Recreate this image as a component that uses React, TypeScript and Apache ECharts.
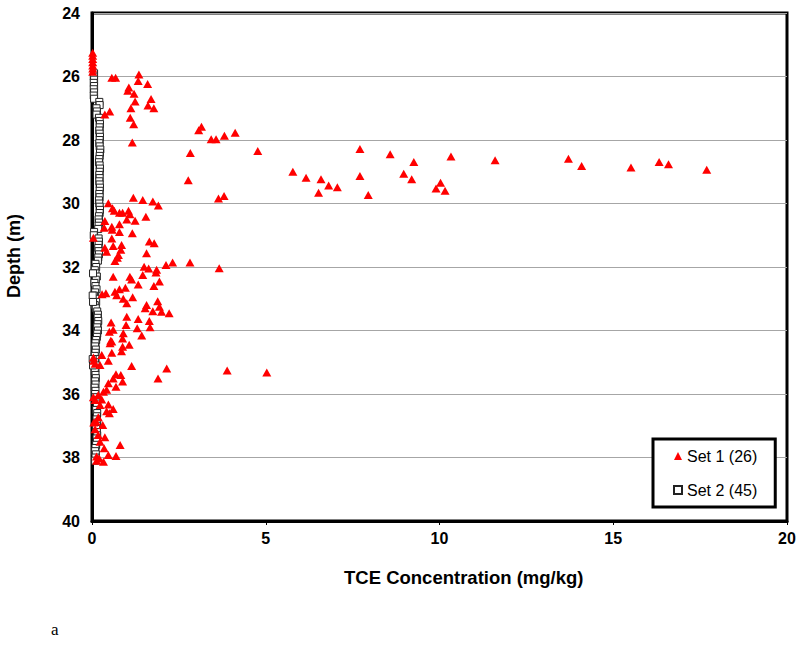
import React, { useEffect, useRef } from "react";
import * as echarts from "echarts";

// Set 1: [TCE concentration (mg/kg), depth (m)]
const set1: [number, number][] = [
  [0.02, 25.25], [0.02, 25.35], [0.02, 25.45], [0.02, 25.55], [0.02, 25.65], [0.02, 25.75], [0.02, 25.85],
  [0.57, 26.04], [0.68, 26.04], [1.35, 25.94], [1.33, 26.14], [1.6, 26.24], [1.06, 26.35], [1.03, 26.45],
  [1.21, 26.54], [1.7, 26.71], [1.24, 26.79], [1.61, 26.91], [1.78, 27.0], [1.12, 27.0], [0.51, 27.1],
  [0.37, 27.2], [1.1, 27.3], [1.2, 27.5], [1.16, 28.08],
  [3.15, 27.58], [3.07, 27.69], [3.43, 27.98], [3.57, 27.98], [3.81, 27.87], [4.12, 27.77], [2.83, 28.41],
  [4.77, 28.35], [2.77, 29.27],
  [7.71, 28.28], [8.58, 28.45], [9.26, 28.69], [10.33, 28.52], [11.6, 28.64], [5.78, 29.0], [6.16, 29.19],
  [6.59, 29.24], [6.81, 29.43], [7.06, 29.49], [6.52, 29.66], [7.71, 29.13], [7.95, 29.73], [8.97, 29.06],
  [9.2, 29.24], [9.9, 29.53], [10.03, 29.35], [10.16, 29.6],
  [13.71, 28.59], [14.09, 28.82], [15.51, 28.87], [16.32, 28.69], [16.59, 28.76], [17.69, 28.94],
  [1.19, 29.82], [1.46, 29.89], [1.75, 29.94], [1.91, 30.06], [3.64, 29.84], [3.8, 29.76], [0.47, 29.99],
  [0.59, 30.15], [0.64, 30.23], [0.79, 30.29], [0.88, 30.29], [1.05, 30.23], [1.09, 30.34], [1.0, 30.5],
  [1.24, 30.54], [1.55, 30.42], [0.37, 30.55], [0.35, 30.76], [0.57, 30.73], [0.58, 30.83], [0.79, 30.65],
  [0.79, 30.9], [1.16, 30.94], [0.04, 31.08], [0.57, 31.1], [1.65, 31.2], [1.79, 31.25], [0.61, 31.34],
  [0.85, 31.31], [0.37, 31.39], [0.42, 31.52], [0.83, 31.46], [1.57, 31.57], [0.76, 31.62], [0.73, 31.71],
  [0.66, 31.81], [2.13, 31.94], [2.32, 31.86], [2.82, 31.86], [3.66, 32.04], [1.5, 31.99], [1.63, 32.05],
  [1.86, 32.09], [1.84, 32.17], [1.46, 32.25], [0.61, 32.31], [1.09, 32.31], [1.14, 32.39], [1.94, 32.46],
  [1.33, 32.55], [1.78, 32.6], [0.96, 32.65], [0.79, 32.7], [0.66, 32.78], [0.4, 32.83], [0.29, 32.86],
  [0.71, 32.89], [1.17, 32.95], [0.9, 33.0], [1.0, 33.14], [1.57, 33.2], [1.89, 33.08], [1.94, 33.25],
  [1.53, 33.3], [1.75, 33.39], [2.0, 33.41], [2.22, 33.46], [1.0, 33.57], [1.33, 33.64], [0.55, 33.75],
  [0.98, 33.83], [1.65, 33.7], [1.67, 33.9], [1.3, 33.93], [0.5, 34.04], [0.61, 33.98], [0.9, 34.09],
  [1.43, 34.16], [0.54, 34.32], [0.88, 34.25], [1.07, 34.45], [0.88, 34.51], [0.52, 34.4], [0.57, 34.35],
  [0.57, 34.7], [0.85, 34.65], [0.28, 34.77], [0.47, 34.95], [0.09, 35.05], [0.23, 35.09], [1.14, 35.12],
  [2.15, 35.2], [3.89, 35.26], [5.03, 35.32], [0.69, 35.38], [0.83, 35.4], [0.61, 35.51], [0.88, 35.61],
  [1.9, 35.51], [0.47, 35.66], [0.69, 35.77], [0.42, 35.87], [0.33, 35.93], [0.18, 36.03], [0.09, 36.19],
  [0.28, 36.17], [0.23, 36.35], [0.47, 36.33], [0.61, 36.47], [0.42, 36.54], [0.5, 36.61], [0.18, 36.73],
  [0.12, 36.87], [0.31, 36.98], [0.09, 37.11], [0.18, 37.29], [0.37, 37.36], [0.23, 37.5], [0.81, 37.61],
  [0.35, 37.71], [0.47, 37.92], [0.69, 37.95], [0.13, 37.97], [0.21, 38.03], [0.33, 38.13], [0.13, 38.1],
  [0.04, 34.85], [0.05, 34.95], [0.04, 36.1], [0.05, 36.9],
];

// Set 2: [TCE concentration (mg/kg), depth (m)]
const set2: [number, number][] = [
  [0.06, 25.9], [0.05, 26.0], [0.06, 26.1], [0.05, 26.2], [0.06, 26.3], [0.05, 26.4], [0.06, 26.5],
  [0.05, 26.6], [0.06, 26.7], [0.21, 26.8], [0.22, 26.9], [0.13, 27.0], [0.14, 27.1], [0.13, 27.2],
  [0.2, 27.3], [0.22, 27.4], [0.23, 27.5], [0.22, 27.6], [0.21, 27.7], [0.22, 27.8], [0.23, 27.9],
  [0.22, 28.0], [0.21, 28.1], [0.22, 28.2], [0.24, 28.3], [0.23, 28.4], [0.22, 28.5], [0.21, 28.6],
  [0.2, 28.7], [0.22, 28.8], [0.23, 28.9], [0.22, 29.0], [0.21, 29.1], [0.22, 29.2], [0.21, 29.3],
  [0.22, 29.4], [0.23, 29.5], [0.22, 29.6], [0.21, 29.7], [0.22, 29.8], [0.2, 29.9], [0.21, 30.0],
  [0.22, 30.1], [0.23, 30.2], [0.22, 30.3], [0.2, 30.4], [0.19, 30.5], [0.2, 30.6], [0.19, 30.7],
  [0.18, 30.8], [0.06, 30.9], [0.05, 31.0], [0.19, 31.1], [0.2, 31.2], [0.19, 31.3], [0.18, 31.4],
  [0.19, 31.5], [0.2, 31.6], [0.18, 31.7], [0.17, 31.8], [0.1, 31.9], [0.12, 32.0], [0.08, 32.1],
  [0.1, 32.2], [0.14, 32.3], [0.11, 32.4], [0.07, 32.5], [0.1, 32.6], [0.13, 32.7], [0.09, 32.8],
  [0.06, 32.9], [0.1, 33.0], [0.12, 33.1], [0.08, 33.2], [0.11, 33.3], [0.15, 33.4], [0.17, 33.5],
  [0.16, 33.6], [0.18, 33.7], [0.16, 33.8], [0.15, 33.9], [0.17, 34.0], [0.15, 34.1], [0.14, 34.2],
  [0.12, 34.3], [0.1, 34.4], [0.09, 34.5], [0.11, 34.6], [0.1, 34.7], [0.08, 34.8], [0.1, 34.9],
  [0.09, 35.0], [0.11, 35.1], [0.1, 35.2], [0.08, 35.3], [0.1, 35.4], [0.11, 35.5], [0.09, 35.6],
  [0.1, 35.7], [0.08, 35.8], [0.1, 35.9], [0.09, 36.0], [0.1, 36.1], [0.13, 36.2], [0.15, 36.3],
  [0.14, 36.4], [0.12, 36.5], [0.15, 36.6], [0.14, 36.7], [0.13, 36.8], [0.15, 36.9], [0.14, 37.0],
  [0.12, 37.1], [0.14, 37.2], [0.15, 37.3], [0.13, 37.4], [0.14, 37.5], [0.12, 37.6], [0.1, 37.7],
  [0.09, 37.8], [0.11, 37.9], [0.1, 38.0], [0.09, 38.1],
  [0.03, 32.2], [0.02, 32.9], [0.03, 33.1], [0.02, 34.9], [0.03, 35.1],
];

const seriesNames = ["Set 1 (26)", "Set 2 (45)"];
const xTitle = "TCE Concentration (mg/kg)";
const yTitle = "Depth (m)";

const FONT = "'Liberation Sans', Arial, sans-serif";

export default function App() {
  const ref = useRef<HTMLDivElement>(null);
  useEffect(() => {
    if (!ref.current) return;
    const chart = echarts.init(ref.current, null, { renderer: "svg" });
    chart.setOption({
      animation: false,
      backgroundColor: "#fff",
      grid: {
        left: 92,
        right: 13,
        top: 13,
        bottom: 130,
        show: true,
        borderColor: "#000",
        borderWidth: 3,
        backgroundColor: "transparent",
      },
      xAxis: {
        type: "value",
        min: 0,
        max: 20,
        interval: 5,
        axisLine: { show: true, lineStyle: { color: "#000", width: 3 } },
        axisTick: { show: true, length: 4, lineStyle: { color: "#000", width: 1 } },
        axisLabel: { color: "#000", fontSize: 16, fontWeight: "bold", fontFamily: FONT, margin: 9 },
        splitLine: { show: false },
      },
      yAxis: {
        type: "value",
        inverse: true,
        min: 24,
        max: 40,
        interval: 2,
        axisLine: { show: true, lineStyle: { color: "#000", width: 3 } },
        axisTick: { show: false },
        axisLabel: { color: "#000", fontSize: 16, fontWeight: "bold", fontFamily: FONT, margin: 12 },
        splitLine: { show: true, lineStyle: { color: "#a6a6a6", width: 1.2 } },
      },
      legend: {
        data: seriesNames,
        orient: "vertical",
        left: 653,
        top: 439,
        padding: [9, 18, 9, 20],
        itemGap: 18,
        itemWidth: 8,
        itemHeight: 8,
        borderColor: "#000",
        borderWidth: 3,
        backgroundColor: "#fff",
        textStyle: { color: "#000", fontSize: 16, fontFamily: FONT },
      },
      graphic: [
        {
          type: "text",
          left: 5,
          top: 214,
          rotation: Math.PI / 2,
          style: { text: yTitle, fill: "#000", font: `bold 18px ${FONT}` },
        },
        {
          type: "text",
          left: 344,
          top: 568,
          style: { text: xTitle, fill: "#000", font: `bold 18.5px ${FONT}` },
        },
        {
          type: "text",
          left: 51,
          top: 621,
          style: { text: "a", fill: "#000", font: "17px 'Liberation Serif', 'Times New Roman', serif" },
        },
      ],
      series: [
        {
          name: seriesNames[1],
          type: "scatter",
          data: set2,
          symbol: "rect",
          symbolSize: 7,
          z: 2,
          itemStyle: { color: "#fff", borderColor: "#222", borderWidth: 1, opacity: 1 },
        },
        {
          name: seriesNames[0],
          type: "scatter",
          data: set1,
          symbol: "triangle",
          symbolSize: [9, 8],
          z: 3,
          itemStyle: { color: "#ff0000", opacity: 1 },
        },
      ],
    });
    return () => chart.dispose();
  }, []);
  return <div ref={ref} style={{ position: "fixed", left: 0, top: 0, width: 800, height: 651 }} />;
}
